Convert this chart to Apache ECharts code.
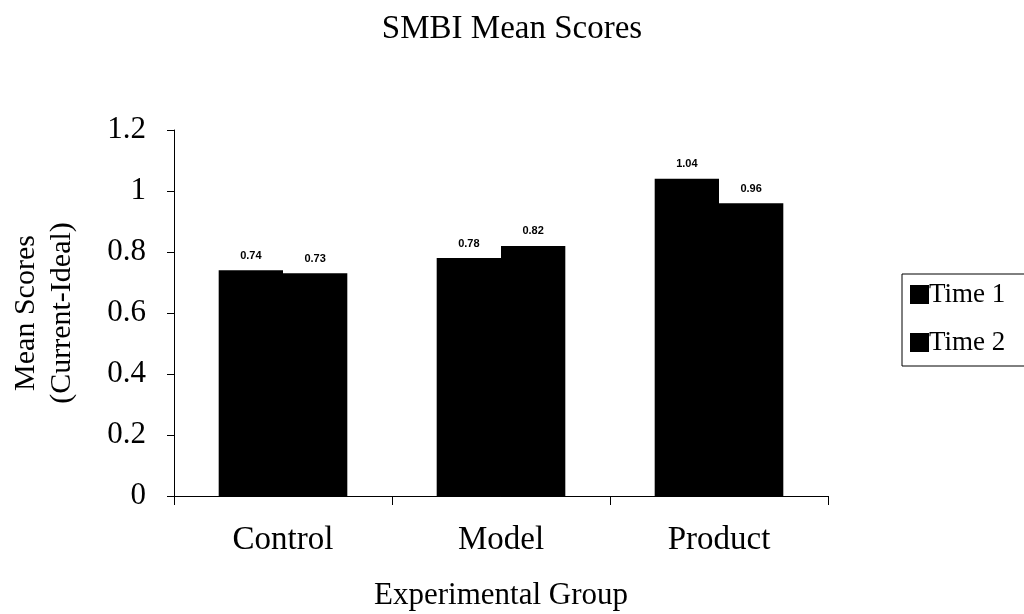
<!DOCTYPE html>
<html><head><meta charset="utf-8">
<script src="https://cdn.jsdelivr.net/npm/echarts@6/dist/echarts.min.js"></script>
<style>html,body{margin:0;padding:0;background:#fff}#c{width:1024px;height:614px}</style>
</head><body><div id="c"></div>
<script>
const categories = ["Control", "Model", "Product"];
const time1 = [0.74, 0.78, 1.04];
const time2 = [0.73, 0.82, 0.96];
const seriesNames = ["Time 1", "Time 2"];
const yTicks = [0, 0.2, 0.4, 0.6, 0.8, 1, 1.2];

const serif = "Liberation Serif";
const chart = echarts.init(document.getElementById('c'));
const labelStyle = {show: true, position: 'top', distance: 9, color: '#000', fontFamily: 'Liberation Sans', fontWeight: 'bold', fontSize: 11, formatter: p => p.value.toFixed(2)};
chart.setOption({
  animation: false,
  title: {text: 'SMBI Mean Scores', left: 'center', top: 8, textStyle: {fontFamily: serif, fontWeight: 'normal', fontSize: 33, color: '#000'}},
  grid: {left: 174, right: 196, top: 130, bottom: 118, outerBoundsMode: 'none', containLabel: false},
  legend: {
    orient: 'vertical', left: 902, top: 274, itemWidth: 19, itemHeight: 19, itemGap: 21,
    borderColor: '#000', borderWidth: 1, padding: [7, 40, 10, 8],
    textStyle: {fontFamily: serif, fontSize: 27, color: '#000', padding: [0, 0, 0, -5]},
    icon: 'rect', data: seriesNames
  },
  xAxis: {
    type: 'category', data: categories,
    name: 'Experimental Group', nameLocation: 'middle', nameGap: 84,
    nameTextStyle: {fontFamily: serif, fontSize: 31, color: '#000'},
    axisLine: {lineStyle: {color: '#000', width: 1}},
    axisTick: {show: true, length: 9, lineStyle: {color: '#000'}},
    axisLabel: {fontFamily: serif, fontSize: 33, color: '#000', margin: 28}
  },
  yAxis: {
    type: 'value', min: 0, max: 1.2, interval: 0.2,
    name: 'Mean Scores\n(Current-Ideal)', nameLocation: 'middle', nameGap: 94, nameRotate: 90,
    nameTextStyle: {fontFamily: serif, fontSize: 30, color: '#000', lineHeight: 36},
    axisLine: {show: true, lineStyle: {color: '#000', width: 1}},
    axisTick: {show: true, length: 7, lineStyle: {color: '#000'}},
    splitLine: {show: false},
    axisLabel: {fontFamily: serif, fontSize: 31, color: '#000', margin: 28,
      formatter: v => { const t = yTicks.find(x => Math.abs(x - v) < 1e-9); return t === undefined ? '' : String(t); }}
  },
  series: [
    {name: seriesNames[0], type: 'bar', data: time1, barGap: '0%', barCategoryGap: '41%', itemStyle: {color: '#000'}, label: labelStyle},
    {name: seriesNames[1], type: 'bar', data: time2, itemStyle: {color: '#000'}, label: labelStyle}
  ]
});
</script></body></html>
